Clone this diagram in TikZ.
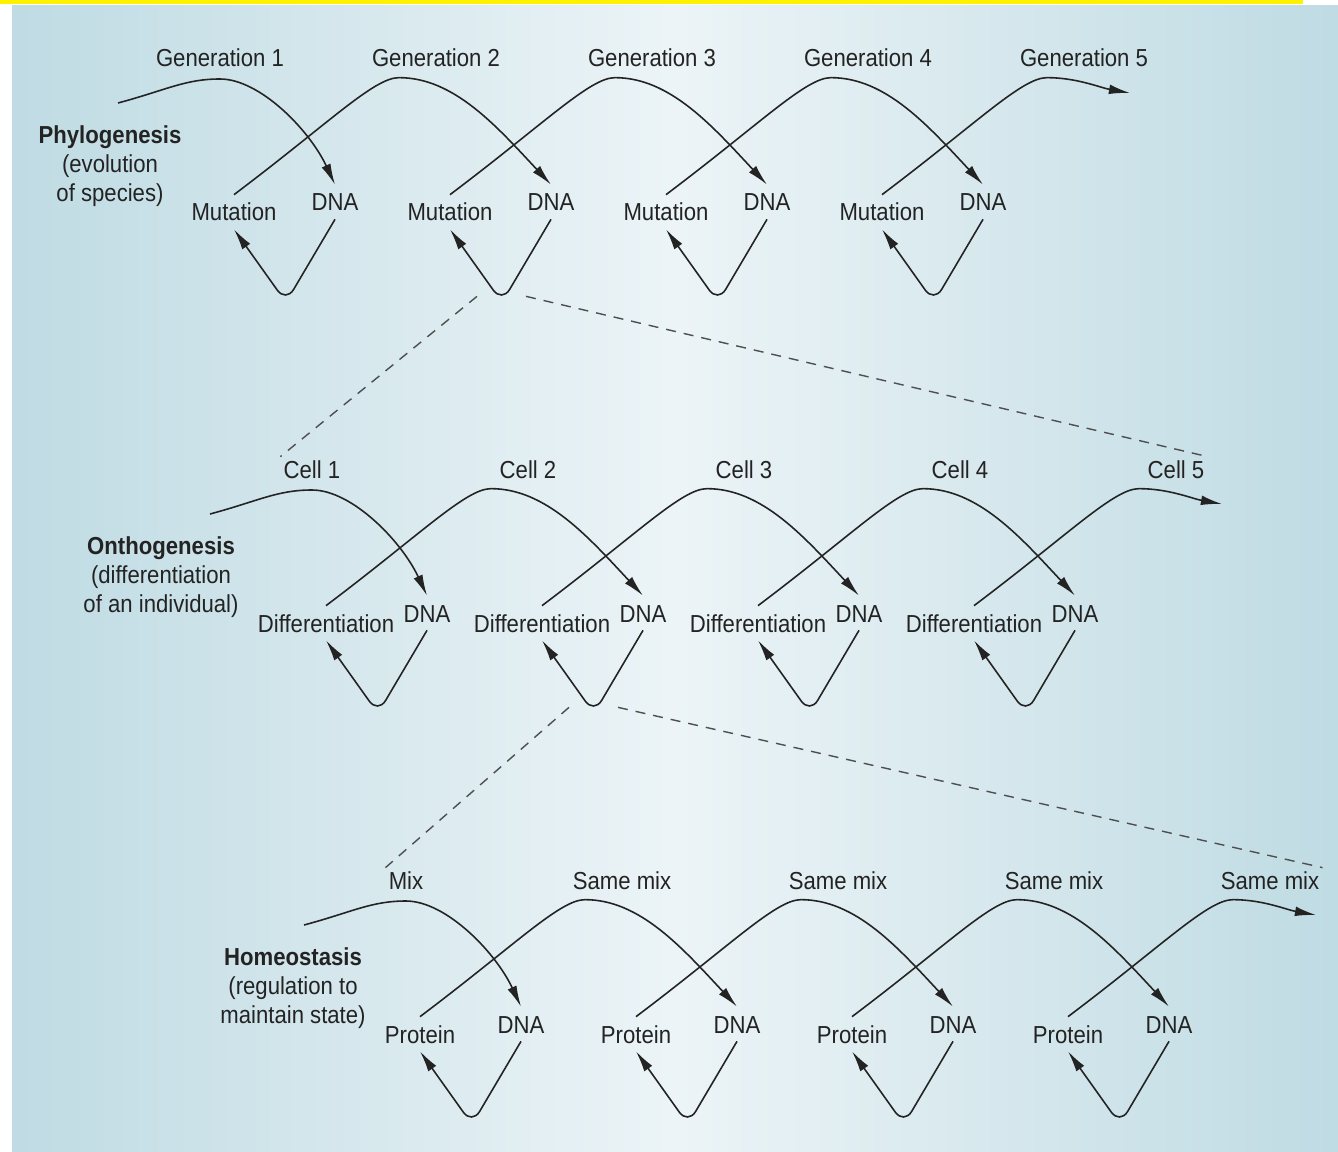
\documentclass[tikz,border=0pt]{standalone}
\usepackage{fontspec}
\setmainfont[FakeStretch=0.9]{Liberation Sans}
\usetikzlibrary{arrows.meta}
\definecolor{ink}{RGB}{35,35,35}
\definecolor{bgedge}{RGB}{191,219,227}
\definecolor{bgmid}{RGB}{236,244,247}
\definecolor{strip}{RGB}{255,242,0}
\begin{document}
\begin{tikzpicture}[x=0.02cm, y=0.02cm, font=\fontsize{14}{16.5}\selectfont, text=ink,
  lab/.style={text height=0.36cm, text depth=0pt, inner sep=0.16cm},
  toplab/.style={lab, inner sep=0.06cm},
  title/.style={align=center, inner sep=0pt},
  arr/.style={draw=ink, line width=0.9pt, -{Latex[length=12pt, width=5.5pt]}},
  zoomline/.style={draw=ink!80, line width=0.8pt, dash pattern=on 0.2cm off 0.16cm}]
\useasboundingbox (0,0) rectangle (1338,-1152);
\fill[white] (0,0) rectangle (1338,-1152);
\shade[left color=bgedge, right color=bgedge, middle color=bgmid] (12,-6) rectangle (1338,-1152);
\fill[strip] (0,0) rectangle (1303,-4);
\foreach \r/\dx/\dy/\chg/\la/\lb/\lc/\ld/\le in {
  1/0/0/Mutation/Generation 1/Generation 2/Generation 3/Generation 4/Generation 5,
  2/92/411/Differentiation/Cell 1/Cell 2/Cell 3/Cell 4/Cell 5,
  3/186/822/Protein/Mix/Same mix/Same mix/Same mix/Same mix} {
  \foreach \k/\txt in {1/\la,2/\lb,3/\lc,4/\ld,5/\le}
    \node[toplab] (top\r\k) at (\dx+4+216*\k, -\dy-58) {\txt};
  \foreach \k in {1,...,4} {
    \node[lab] (chg\r\k) at (\dx+18+216*\k, -\dy-212) {\chg};
    \node[lab] (dna\r\k) at (\dx+119+216*\k, -\dy-202) {DNA};
  }
  \coordinate (in\r) at (\dx+118, -\dy-103);
  \coordinate (out\r) at (\dx+1130, -\dy-93);
  \draw[arr] (in\r) .. controls +(15:50) and +(-35,0) .. (\dx+220, -\dy-79)
    .. controls +(40,0) and +(115:60) .. (dna\r1.north);
  \foreach \k [count=\j from 2] in {1,2,3}
    \draw[arr] (chg\r\k.north) .. controls +(37:120) and +(-25,0) .. ++(165,117)
      .. controls +(55,0) and +(133:80) .. (dna\r\j.north);
  \draw[arr] (chg\r4.north) .. controls +(37:120) and +(-25,0) .. ++(165,117)
    .. controls +(30,0) and +(170:30) .. (out\r);
  \foreach \k in {1,...,4}
    \draw[arr, rounded corners=0.3cm] (dna\r\k.south) -- ++(-49,-83) coordinate (bot\r\k) -- (chg\r\k.south);
}
\node[title] (name1) at (110,-166) {\textbf{Phylogenesis}\\(evolution\\of species)};
\node[title] (name2) at (161,-577) {\textbf{Onthogenesis}\\(differentiation\\of an individual)};
\node[title] (name3) at (293,-988) {\textbf{Homeostasis}\\(regulation to\\maintain state)};
\draw[zoomline] ([shift={(-0.5cm,0.12cm)}]bot12) -- (top21.north west);
\draw[zoomline] ([shift={(0.48cm,0.12cm)}]bot12) -- (top25.north east);
\draw[zoomline] ([shift={(-0.5cm,0.12cm)}]bot22) -- (top31.north west);
\draw[zoomline] ([shift={(0.48cm,0.12cm)}]bot22) -- (top35.north east);
\end{tikzpicture}
\end{document}
